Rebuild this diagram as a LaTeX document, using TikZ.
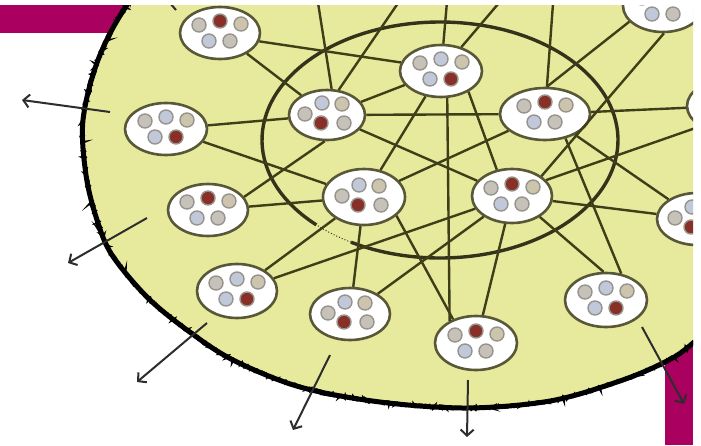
\documentclass[tikz,border=0pt]{standalone}
\usepackage[usenames,dvipsnames]{xcolor}
\usepackage{tikz}
\usetikzlibrary{shapes.geometric,arrows.meta,decorations.pathmorphing}

\definecolor{plum}{RGB}{170,0,96}
\definecolor{disk}{RGB}{231,234,156}
\definecolor{linkcol}{RGB}{62,62,24}
\definecolor{ringcol}{RGB}{88,88,56}
\definecolor{loopcol}{RGB}{52,50,26}
\definecolor{arrowcol}{RGB}{45,45,45}
\definecolor{cellgrey}{RGB}{198,194,186}
\definecolor{cellblue}{RGB}{192,200,218}
\definecolor{cellsand}{RGB}{204,196,172}
\definecolor{cellred}{RGB}{136,48,40}
\definecolor{cellring}{RGB}{150,148,140}

% five little cells in a community, #2 = which one is red
\newcommand{\cellsA}[2]{%
  \foreach \dx/\dy/\cl [count=\i] in {-21/-8/cellgrey,0/-12/cellblue,21/-9/cellsand,-11/8/cellblue,10/8/cellgrey}{%
    \ifnum\i=#2\relax\def\cl{cellred}\fi
    \draw[cell,fill=\cl] ([shift={(\dx,\dy)}]#1.center) circle (7pt);}}
\newcommand{\cellsB}[2]{%
  \foreach \dx/\dy/\cl [count=\i] in {-22/-1/cellgrey,-5/-12/cellblue,15/-11/cellsand,-6/8/cellblue,17/8/cellgrey}{%
    \ifnum\i=#2\relax\def\cl{cellred}\fi
    \draw[cell,fill=\cl] ([shift={(\dx,\dy)}]#1.center) circle (7pt);}}

\tikzset{rim/.style={insert path={plot[smooth cycle,tension=0.55] coordinates {
  (180,-60) (127,5) (98,60) (83,120) (86,175) (97,220) (112,255) (147,297)
  (187,330) (233,360) (300,387) (380,402) (467,408) (550,401) (617,382)
  (663,363) (693,343) (760,280) (800,150) (780,20) (650,-70) (400,-100)}}}}

\begin{document}
\begin{tikzpicture}[x=1pt,y=-1pt,
  cellbox/.style={ellipse,draw=ringcol,line width=2.6pt,fill=white,minimum width=80pt,minimum height=52pt,inner sep=0pt},
  cell/.style={draw=cellring,line width=1.4pt},
  link/.style={draw=linkcol,line width=2.4pt},
  outward/.style={draw=arrowcol,line width=2pt,-{Straight Barb[length=6pt,width=13pt]}}]

\fill[white] (0,0) rectangle (701,445);
\useasboundingbox (0,0) rectangle (701,445);
\begin{scope}
\clip (0,5) rectangle (693,445);

\fill[plum] (0,5) rectangle (140,33);
\fill[plum] (665,330) rectangle (693,445);

% the big disk
\draw[fill=disk,line width=5pt,rim];
\draw[line width=2.5pt,decorate,decoration={random steps,segment length=1.5pt,amplitude=1.6pt},rim];

% inner ring, partly sketched
\draw[loopcol,line width=3.4pt] (440,140) ++(134:178 and 118) arc[start angle=134,end angle=480,x radius=178,y radius=118];
\draw[loopcol,line width=1pt,dotted] (440,140) ++(120:178 and 118) arc[start angle=120,end angle=134,x radius=178,y radius=118];

  \draw (220,33) node[cellbox] (tl) {};
  \draw (441,71) node[cellbox,minimum width=82pt] (tc) {};
  \draw (327,115) node[cellbox,minimum width=76pt,minimum height=50pt] (il) {};
  \draw (166,129) node[cellbox,minimum width=82pt] (ol) {};
  \draw (545,114) node[cellbox,minimum width=90pt] (ir) {};
  \draw (663,6) node[cellbox] (tr) {};
  \draw (727,106) node[cellbox] (rr) {};
  \draw (364,197) node[cellbox,minimum width=82pt,minimum height=56pt] (ic) {};
  \draw (512,196) node[cellbox,minimum height=54pt] (ib) {};
  \draw (208,210) node[cellbox] (ml) {};
  \draw (697,219) node[cellbox] (re) {};
  \draw (237,291) node[cellbox,minimum height=54pt] (bl) {};
  \draw (350,314) node[cellbox] (bc) {};
  \draw (476,343) node[cellbox,minimum width=82pt,minimum height=54pt] (bm) {};
  \draw (606,300) node[cellbox,minimum width=82pt,minimum height=54pt] (br) {};

\cellsA{tl}{2} \cellsA{tc}{5} \cellsB{il}{4} \cellsA{ol}{5}
\cellsA{ir}{2} \cellsA{tr}{2} \cellsA{rr}{3} \cellsB{ic}{4}
\cellsA{ib}{2} \cellsA{ml}{2} \cellsB{re}{4} \cellsA{bl}{5}
\cellsB{bc}{4} \cellsA{bm}{2} \cellsA{br}{5}

  \coordinate (u1) at (316,-10);
  \coordinate (u2) at (407,-10);
  \coordinate (u3) at (448,-10);
  \coordinate (u4) at (510,-10);
  \coordinate (u5) at (554,-10);

    \path[link] (tl.-12) edge (tc.168);
    \path[link] (tl) edge (il);
    \path[link] (ol) edge (il);
    \path[link] (ol) edge (ic);
    \path[link] (il) edge (tc);
    \path[link] (il) edge (ir);
    \path[link] (il) edge (ib);
    \path[link] (il.-95) edge (ml.20);
    \path[link] (il.80) edge (u1);
    \path[link] (il.65) edge (u2);
    \path[link] (tc) edge (u3);
    \path[link] (tc) edge (u4);
    \path[link] (tc) edge (ic);
    \path[link] (tc.-37) edge (ib.120);
    \path[link] (tc.-77) edge (bm.140);
    \path[link] (ir.86) edge (u5);
    \path[link] (ir.86) edge (tr.205);
    \path[link] (ir) edge (rr);
    \path[link] (ir) edge (ic);
    \path[link] (ir) edge (re);
    \path[link] (ir.-50) edge (br.60);
    \path[link] (tr.-88) edge (ib.34);
    \path[link] (rr.217) edge (ib.25);
    \path[link] (ib) edge (re);
    \path[link] (ib.-37) edge (br.95);
    \path[link] (ib) edge (bm);
    \path[link] (ib) edge (bc);
    \path[link] (ib) edge (bl);
    \path[link] (ml) edge (ic);
    \path[link] (ic) edge (bl);
    \path[link] (ic) edge (bc);
    \path[link] (ic.-30) edge (bm.134);

% arrows leaving the disk
  \coordinate (o0s) at (176,10);  \coordinate (o0e) at (150,-20);
  \coordinate (o1s) at (110,112); \coordinate (o1e) at (22,100);
  \coordinate (o2s) at (147,218); \coordinate (o2e) at (68,263);
  \coordinate (o3s) at (207,323); \coordinate (o3e) at (137,382);
  \coordinate (o4s) at (330,355); \coordinate (o4e) at (293,430);
  \coordinate (o5s) at (468,380); \coordinate (o5e) at (467,437);
  \coordinate (o6s) at (642,327); \coordinate (o6e) at (684,404);
\foreach \k in {0,...,6}
  \draw[outward] (o\k s) -- (o\k e);

\end{scope}
\end{tikzpicture}
\end{document}
